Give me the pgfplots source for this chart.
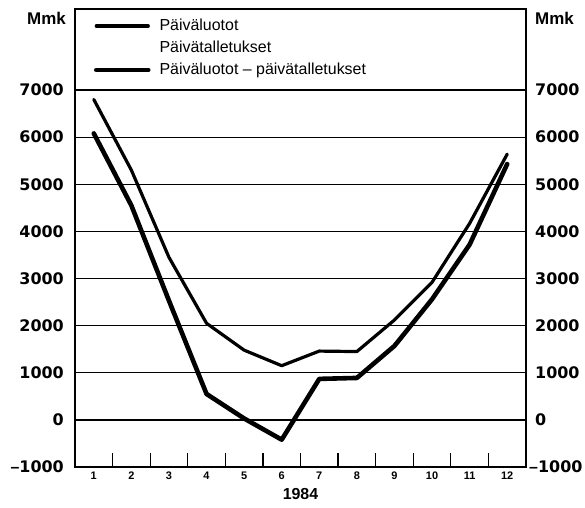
\documentclass[border=0pt]{standalone}
\usepackage{pgfplots}
\pgfplotsset{compat=1.18}
\usepackage{fontspec}
\setmainfont{Liberation Sans}
\newfontfamily\numfont{DejaVu Sans}
\newfontfamily\lib{Liberation Sans}
\begin{document}
\begin{tikzpicture}
\useasboundingbox (-75bp,-41bp) rectangle (510bp,467bp);
\begin{axis}[
  at={(0,0)}, anchor=south west,
  scale only axis, width=451bp, height=458bp,
  xmin=0.5, xmax=12.5, ymin=-1000, ymax=8720,
  /pgf/number format/assume math mode=true,
  axis line style={line width=1.5bp, black},
  xtick={1,...,12},
  minor xtick={1.5,2.5,...,11.5},
  major tick length=0pt, minor tick length=14bp,
  tick align=inside, xtick pos=lower, ytick pos=left,
  minor tick style={line width=1.3bp, black},
  xticklabel style={font=\bfseries\fontsize{11}{13}\selectfont, inner sep=0pt, anchor=north, yshift=-5bp},
  ytick={-1000,0,1000,2000,3000,4000,5000,6000,7000},
  yticklabels={{{\lib\bfseries –}1000},0,1000,2000,3000,4000,5000,6000,7000},
  yticklabel style={font=\numfont\bfseries\fontsize{16}{19}\selectfont, inner sep=0pt, anchor=east, xshift=-11bp},
  ymajorgrids, grid style={line width=1.1bp, black},
  xlabel={1984},
  xlabel style={at={(axis description cs:0.5,0)}, anchor=center, yshift=-27bp, font=\bfseries\fontsize{16}{19}\selectfont},
  legend style={at={(axis description cs:0.0421,0.9803)}, anchor=north west, draw=none, fill=none,
    inner sep=0pt, outer sep=0pt, row sep=6bp, column sep=9bp,
    font=\fontsize{16}{19}\selectfont,
    nodes={inner sep=0pt, text height=12bp, text depth=4bp}},
  legend cell align=left,
  legend image code/.code={\draw[#1] (0bp,0bp) -- (52bp,0bp);},
]
\draw[line width=1.8bp, black] (axis cs:0.5,0) -- (axis cs:12.5,0);
\addplot[black, line width=3.2bp, line join=round, line cap=round] coordinates {
  (1,6800) (2,5300) (3,3450) (4,2050) (5,1480) (6,1150)
  (7,1460) (8,1450) (9,2120) (10,2920) (11,4170) (12,5640)};
\addlegendentry{Päiväluotot}
\addlegendimage{legend image code/.code={}}
\addlegendentry{Päivätalletukset}
\addplot[black, line width=4.6bp, line join=round, line cap=round] coordinates {
  (1,6080) (2,4550) (3,2530) (4,550) (5,30) (6,-420)
  (7,870) (8,890) (9,1570) (10,2560) (11,3720) (12,5430)};
\addlegendentry{Päiväluotot – päivätalletukset}
\end{axis}
\begin{axis}[
  at={(0,0)}, anchor=south west,
  scale only axis, width=451bp, height=458bp,
  xmin=0.5, xmax=12.5, ymin=-1000, ymax=8720,
  /pgf/number format/assume math mode=true,
  hide x axis, axis y line*=right, y axis line style={draw=none},
  major tick length=0pt,
  ytick={-1000,0,1000,2000,3000,4000,5000,6000,7000},
  yticklabels={{\hspace*{-6bp}{\lib\bfseries –}1000},0,1000,2000,3000,4000,5000,6000,7000},
  yticklabel style={font=\numfont\bfseries\fontsize{16}{19}\selectfont, inner sep=0pt, anchor=west, xshift=9bp},
]
\addplot[draw=none] coordinates {(1,0)};
\end{axis}
\node[anchor=east, inner sep=0pt, font=\bfseries\fontsize{17}{20}\selectfont] at (-9bp,449bp) {Mmk};
\node[anchor=west, inner sep=0pt, font=\bfseries\fontsize{17}{20}\selectfont] at (460bp,449bp) {Mmk};
\end{tikzpicture}
\end{document}
